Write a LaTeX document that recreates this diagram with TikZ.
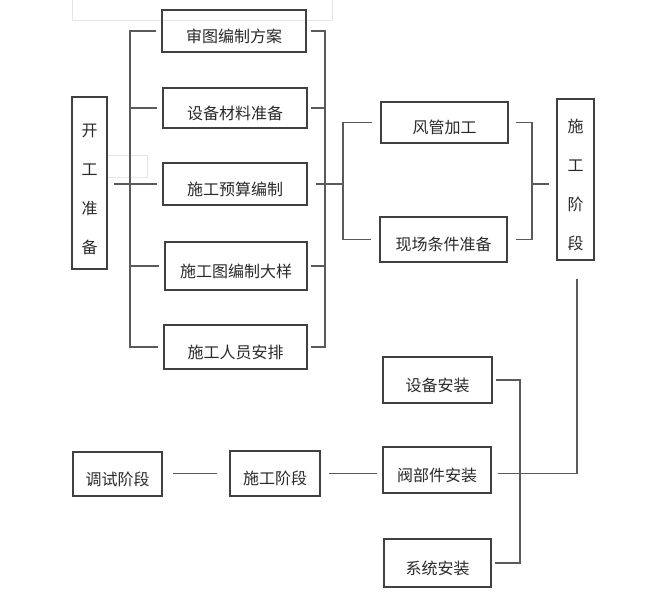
\documentclass[tikz,border=0pt]{standalone}
\usepackage{fontspec}
\usepackage{tikz}
\newfontfamily\cjk{Noto Sans CJK SC}
\definecolor{boxline}{HTML}{404040}
\definecolor{connline}{HTML}{5A5A5A}
\definecolor{boxtext}{HTML}{2A2A2A}
\definecolor{faint}{HTML}{E6E6E6}
\tikzset{
	box/.style={draw=boxline, line width=1.1pt, inner sep=0pt, align=center, text=boxtext, font=\cjk\fontsize{16}{39}\selectfont},
	low/.style={text height=24pt, text depth=2pt},
	vlow/.style={text height=142pt, text depth=2pt},
	conn/.style={draw=connline, line width=1.4pt},
}

\begin{document}
\begin{tikzpicture}[x=1pt, y=-1pt]
		\useasboundingbox[fill=white] (0,0) rectangle (653,595);
		\draw[faint, line width=0.8pt] (72,0) -- (72,20) -- (332,20) -- (332,0);
		\draw[faint, line width=0.8pt] (107,155) rectangle (147,177);
		\node[box, low, minimum width=144pt, minimum height=42pt] (shentu) at (234,31) {审图编制方案};
		\node[box, low, minimum width=144pt, minimum height=40pt] (shebei) at (235,108) {设备材料准备};
		\node[box, low, minimum width=144pt, minimum height=42pt] (yusuan) at (235,184) {施工预算编制};
		\node[box, low, minimum width=142pt, minimum height=48pt] (tuyang) at (236,266) {施工图编制大样};
		\node[box, low, minimum width=143pt, minimum height=44pt] (renyuan) at (235.5,347) {施工人员安排};
		\node[box, vlow, minimum width=35pt, minimum height=172pt] (kaigong) at (89.5,183) {开\\工\\准\\备};
		\node[box, low, minimum width=127pt, minimum height=41pt] (fengguan) at (444.5,122.5) {风管加工};
		\node[box, low, minimum width=127pt, minimum height=45pt] (xianchang) at (443.5,239.5) {现场条件准备};
		\node[box, vlow, minimum width=37pt, minimum height=161pt] (shigong) at (575.5,179.5) {施\\工\\阶\\段};
		\node[box, low, minimum width=109pt, minimum height=46pt] (shebeianzhuang) at (437.5,380) {设备安装};
		\node[box, low, minimum width=108pt, minimum height=46pt] (famen) at (437,470) {阀部件安装};
		\node[box, low, minimum width=107pt, minimum height=48pt] (xitong) at (437.5,563) {系统安装};
		\node[box, low, minimum width=89pt, minimum height=44pt] (tiaoshi) at (117.5,474) {调试阶段};
		\node[box, low, minimum width=90pt, minimum height=45pt] (shigongjd) at (275,473.5) {施工阶段};
		\coordinate (lspine) at (130,0);
		\coordinate (rspine) at (325,0);
		\coordinate (mspine) at (343,0);
		\coordinate (sspine) at (532,0);
		\coordinate (bspine) at (520,0);
		\coordinate (shigongend) at (577,279);
		\draw[conn] ([xshift=-5pt]shentu.west) -- (lspine |- shentu.west) -- (lspine |- renyuan.west) -- ([xshift=-5pt]renyuan.west);
		\draw[conn] ([xshift=-5pt]shebei.west) -- (lspine |- shebei.west);
		\draw[conn] ([xshift=-5pt]tuyang.west) -- (lspine |- tuyang.west);
		\draw[conn] ([xshift=6pt]kaigong.east |- yusuan.west) -- ([xshift=-5pt]yusuan.west);
		\draw[conn] ([xshift=4pt]shentu.east) -- (rspine |- shentu.east) -- (rspine |- renyuan.east) -- ([xshift=3pt]renyuan.east);
		\draw[conn] ([xshift=3pt]shebei.east) -- (rspine |- shebei.east);
		\draw[conn] ([xshift=3pt]tuyang.east) -- (rspine |- tuyang.east);
		\draw[conn] ([xshift=8pt]yusuan.east) -- (mspine |- yusuan.east);
		\draw[conn] ([xshift=-8pt]fengguan.west) -- (mspine |- fengguan.west) -- (mspine |- xianchang.west) -- ([xshift=-8pt]xianchang.west);
		\draw[conn] ([xshift=7pt]fengguan.east) -- (sspine |- fengguan.east) -- (sspine |- xianchang.east) -- ([xshift=8pt]xianchang.east);
		\draw[conn] (sspine |- yusuan.east) -- ([xshift=-7pt]shigong.west |- yusuan.east);
		\draw[conn] (shigongend) |- ([xshift=6pt]famen.east |- shigongjd.east);
		\draw[conn] ([xshift=3pt]shebeianzhuang.east) -- (bspine |- shebeianzhuang.east) -- (bspine |- xitong.east) -- ([xshift=3pt]xitong.east);
		\draw[conn] ([xshift=-5pt]famen.west |- shigongjd.east) -- ([xshift=8pt]shigongjd.east);
		\draw[conn] ([xshift=-12pt]shigongjd.west) -- ([xshift=10pt]tiaoshi.east |- shigongjd.west);
	\end{tikzpicture}
\end{document}
